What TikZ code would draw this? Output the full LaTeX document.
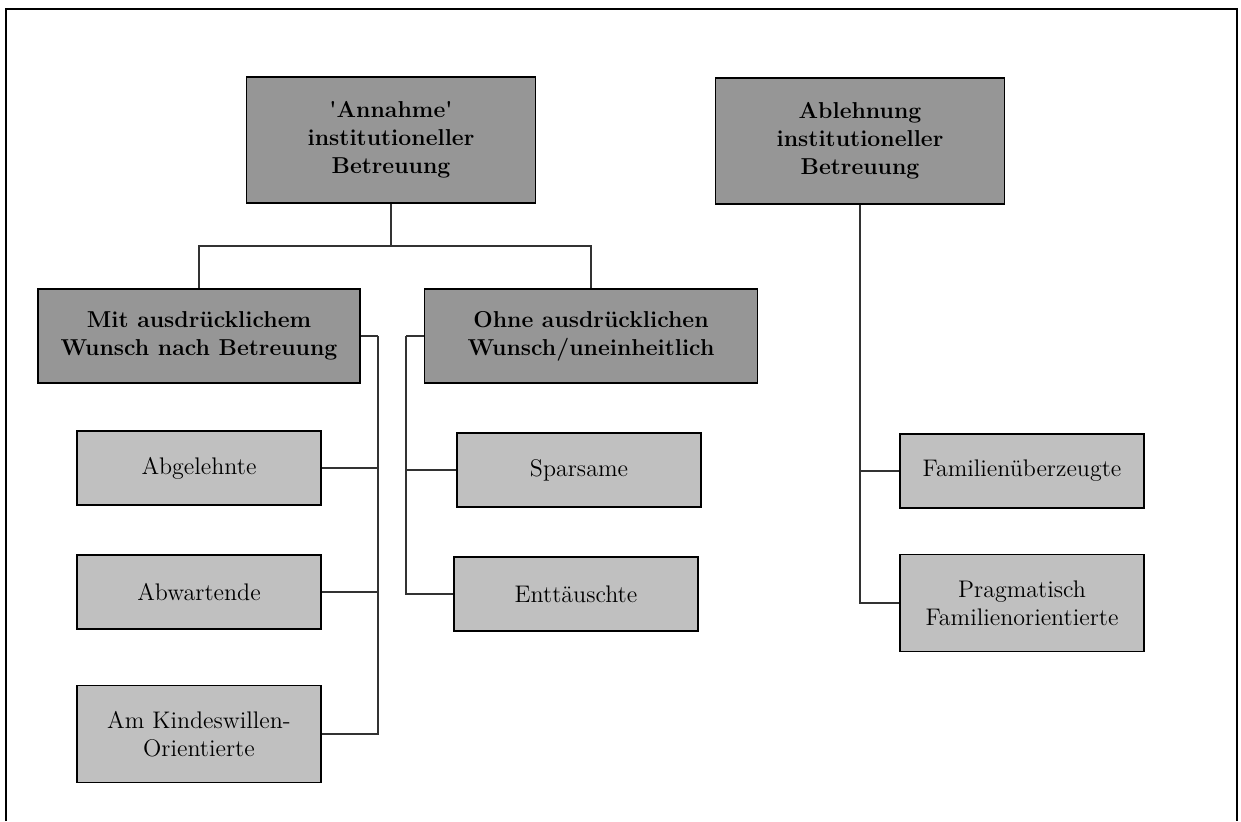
\documentclass[tikz,border=0pt]{standalone}
\usepackage{tikz}
\usetikzlibrary{arrows,shapes}
\definecolor{dunkelgrau}{RGB}{150,150,150}
\definecolor{hellgrau}{RGB}{192,192,192}
\definecolor{linie}{RGB}{50,50,50}
\tikzstyle{hauptbox} = [rectangle, draw, fill=dunkelgrau, align=center,
    font=\fontsize{11.5}{14}\selectfont\bfseries, minimum width=144.5pt, minimum height=63pt]
\tikzstyle{zweigbox} = [rectangle, draw, fill=dunkelgrau, align=center,
    font=\fontsize{11.5}{14}\selectfont\bfseries, minimum width=161pt, minimum height=47pt]
\tikzstyle{typbox} = [rectangle, draw, fill=hellgrau, align=center,
    font=\fontsize{12}{14}\selectfont, minimum width=122pt, minimum height=37pt]
\tikzstyle{ast} = [draw=linie, line width=0.6pt]

\begin{document}
\begin{tikzpicture}[x=0.5pt,y=-0.5pt,node distance=62pt,line width=0.6pt]

  \useasboundingbox (0,0) rectangle (1241,821);
  \draw[line width=1pt] (6,821) -- (6,9) -- (1237,9) -- (1237,821);

  \node[hauptbox]     (ann) at (391,140) {\textquotesingle Annahme\textquotesingle\\institutioneller\\Betreuung};
  \node[hauptbox]     (abl) at (860,141) {Ablehnung\\institutioneller\\Betreuung};
  \node[zweigbox]     (mit) [below of=ann,xshift=-96pt,yshift=-36pt] {Mit ausdrücklichem\\Wunsch nach Betreuung};
  \node[zweigbox, minimum width=166.5pt] (ohne) [below of=ann,xshift=100pt,yshift=-36pt] {Ohne ausdrücklichen\\Wunsch/uneinheitlich};
  \node[typbox]       (abgelehnte) [below of=mit,yshift=-4pt] {Abgelehnte};
  \node[typbox]       (abwartende) [below of=abgelehnte] {Abwartende};
  \node[typbox, minimum height=48.5pt] (kindeswillen) [below of=abwartende,yshift=-9pt] {Am Kindeswillen-\\Orientierte};
  \node[typbox]       (sparsame) [below of=ohne,xshift=-6pt,yshift=-5pt] {Sparsame};
  \node[typbox]       (enttaeuschte) [below of=sparsame,xshift=-1.5pt] {Enttäuschte};
  \node[typbox]       (familien) [below of=abl,xshift=81pt,yshift=-103pt] {Familienüberzeugte};
  \node[typbox, minimum height=48.5pt] (pragmatisch) [below of=familien,yshift=-4pt] {Pragmatisch\\Familienorientierte};

  \coordinate (verteiler) at (391,246);
  \coordinate (mitlinie) at (378,336);
  \coordinate (ohnelinie) at (406,336);

  \draw[ast] (ann.south) -- (verteiler);
  \foreach \zweig in {mit,ohne}
    \draw[ast] (verteiler) -| (\zweig.north);
  \draw[ast] (mit.east) -- (mitlinie);
  \foreach \typ in {abgelehnte,abwartende,kindeswillen}
    \draw[ast] (mitlinie) |- (\typ.east);
  \draw[ast] (ohne.west) -- (ohnelinie);
  \foreach \typ in {sparsame,enttaeuschte}
    \draw[ast] (ohnelinie) |- (\typ.west);
  \foreach \typ in {familien,pragmatisch}
    \draw[ast] (abl.south) |- (\typ.west);
\end{tikzpicture}
\end{document}
